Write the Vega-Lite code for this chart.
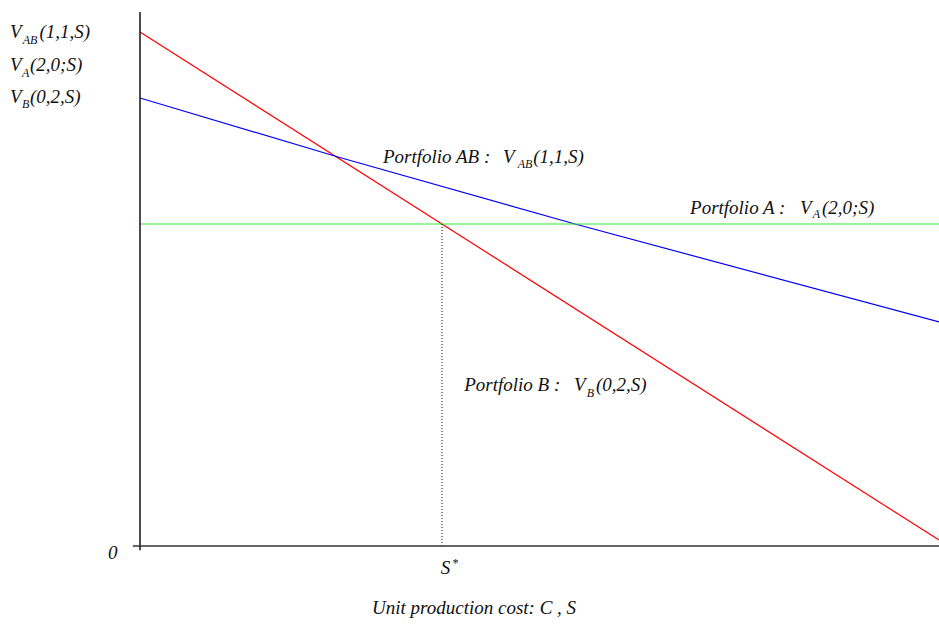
{
  "$schema": "https://vega.github.io/schema/vega-lite/v6.json",
  "width": 799,
  "height": 534,
  "autosize": "none",
  "padding": {"left": 140, "top": 12, "right": 0, "bottom": 81},
  "background": "white",
  "config": {
    "view": {"stroke": null},
    "text": {"font": "Liberation Serif", "fontStyle": "italic", "color": "#111111", "align": "left", "baseline": "alphabetic"}
  },
  "datasets": {
    "lines": [
      {"series": "red", "x": 0, "y": 9.625},
      {"series": "red", "x": 10, "y": 0.112},
      {"series": "blue", "x": 0, "y": 8.39},
      {"series": "blue", "x": 2.478, "y": 7.285},
      {"series": "blue", "x": 5.444, "y": 6.03},
      {"series": "blue", "x": 10, "y": 4.195},
      {"series": "green", "x": 0, "y": 6.03},
      {"series": "green", "x": 10, "y": 6.03}
    ],
    "vrules": [
      {"kind": "yaxis", "x": 0, "y": -0.08, "y2": 10},
      {"kind": "dotted", "x": 3.78, "y": 0, "y2": 6.03}
    ],
    "hrules": [
      {"kind": "xaxis", "x": -0.09, "x2": 10, "y": 0}
    ],
    "labels": [
      {"role": "main", "x": -1.627, "y": 9.522, "t": "V"},
      {"role": "main", "x": -1.259, "y": 9.522, "t": "(1,1,S)"},
      {"role": "main", "x": -1.627, "y": 8.886, "t": "V"},
      {"role": "main", "x": -1.377, "y": 8.886, "t": "(2,0;S)"},
      {"role": "main", "x": -1.627, "y": 8.287, "t": "V"},
      {"role": "main", "x": -1.377, "y": 8.287, "t": "(0,2,S)"},
      {"role": "main", "x": 3.041, "y": 7.172, "t": "Portfolio AB :"},
      {"role": "main", "x": 4.543, "y": 7.172, "t": "V"},
      {"role": "main", "x": 4.922, "y": 7.172, "t": "(1,1,S)"},
      {"role": "main", "x": 6.884, "y": 6.217, "t": "Portfolio A :"},
      {"role": "main", "x": 8.26, "y": 6.217, "t": "V"},
      {"role": "main", "x": 8.536, "y": 6.217, "t": "(2,0;S)"},
      {"role": "main", "x": 4.058, "y": 2.908, "t": "Portfolio B :"},
      {"role": "main", "x": 5.432, "y": 2.908, "t": "V"},
      {"role": "main", "x": 5.707, "y": 2.908, "t": "(0,2,S)"},
      {"role": "main", "x": 3.763, "y": -0.524, "t": "S"},
      {"role": "main", "x": 2.904, "y": -1.273, "t": "Unit production cost: C , S"},
      {"role": "main", "x": -0.4, "y": -0.249, "t": "0"},
      {"role": "small", "x": -1.468, "y": 9.41, "t": "AB"},
      {"role": "small", "x": -1.477, "y": 8.792, "t": "A"},
      {"role": "small", "x": -1.477, "y": 8.193, "t": "B"},
      {"role": "small", "x": 4.727, "y": 7.088, "t": "AB"},
      {"role": "small", "x": 8.419, "y": 6.133, "t": "A"},
      {"role": "small", "x": 5.591, "y": 2.796, "t": "B"},
      {"role": "small", "x": 3.905, "y": -0.393, "t": "*"}
    ]
  },
  "layer": [
    {
      "data": {"name": "lines"},
      "mark": {"type": "line", "strokeWidth": 1.2, "clip": false},
      "encoding": {
        "x": {"field": "x", "type": "quantitative", "scale": {"domain": [0, 10], "nice": false, "zero": false}, "axis": null},
        "y": {"field": "y", "type": "quantitative", "scale": {"domain": [0, 10], "nice": false, "zero": false}, "axis": null},
        "detail": {"field": "series"},
        "color": {"field": "series", "type": "nominal", "scale": {"domain": ["red", "blue", "green"], "range": ["#ff0000", "#0000ff", "#33e633"]}, "legend": null}
      }
    },
    {
      "data": {"name": "vrules"},
      "transform": [{"filter": "datum.kind == 'yaxis'"}],
      "mark": {"type": "rule", "color": "#111111", "strokeWidth": 1.5},
      "encoding": {
        "x": {"field": "x", "type": "quantitative"},
        "y": {"field": "y", "type": "quantitative"},
        "y2": {"field": "y2"}
      }
    },
    {
      "data": {"name": "vrules"},
      "transform": [{"filter": "datum.kind == 'dotted'"}],
      "mark": {"type": "rule", "color": "#111111", "strokeWidth": 1, "strokeDash": [1, 2]},
      "encoding": {
        "x": {"field": "x", "type": "quantitative"},
        "y": {"field": "y", "type": "quantitative"},
        "y2": {"field": "y2"}
      }
    },
    {
      "data": {"name": "hrules"},
      "mark": {"type": "rule", "color": "#333333", "strokeWidth": 1.5},
      "encoding": {
        "x": {"field": "x", "type": "quantitative"},
        "x2": {"field": "x2"},
        "y": {"field": "y", "type": "quantitative"}
      }
    },
    {
      "data": {"name": "labels"},
      "transform": [{"filter": "datum.role == 'main'"}],
      "mark": {"type": "text", "fontSize": 19},
      "encoding": {
        "x": {"field": "x", "type": "quantitative"},
        "y": {"field": "y", "type": "quantitative"},
        "text": {"field": "t"}
      }
    },
    {
      "data": {"name": "labels"},
      "transform": [{"filter": "datum.role == 'small'"}],
      "mark": {"type": "text", "fontSize": 12},
      "encoding": {
        "x": {"field": "x", "type": "quantitative"},
        "y": {"field": "y", "type": "quantitative"},
        "text": {"field": "t"}
      }
    }
  ]
}
